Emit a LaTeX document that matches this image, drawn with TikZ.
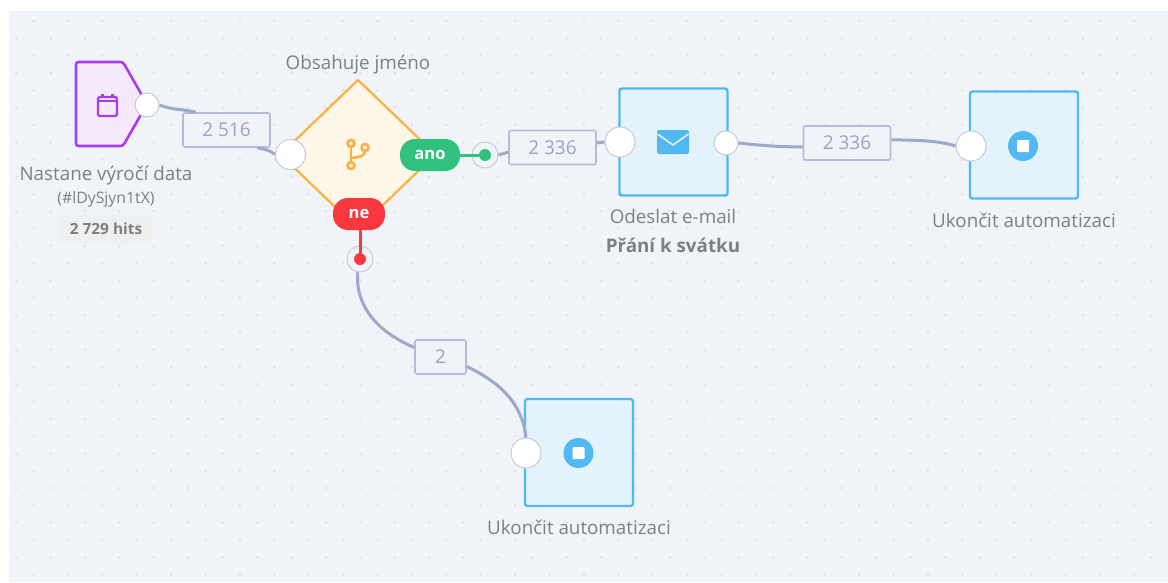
\documentclass[tikz,border=0pt]{standalone}
\usepackage{fontspec}
\setmainfont{Open Sans}
\usetikzlibrary{shapes.geometric}
\definecolor{canvasbg}{HTML}{F0F4F8}
\definecolor{dotcol}{HTML}{DDE3EA}
\definecolor{flowcol}{HTML}{9FA7CB}
\definecolor{labelcol}{HTML}{B5BCD8}
\definecolor{numcol}{HTML}{9AA2C6}
\definecolor{portcol}{HTML}{CBCDD8}
\definecolor{textcol}{HTML}{7C7F83}
\definecolor{trigcol}{HTML}{A83CEF}
\definecolor{trigbg}{HTML}{F5E9FC}
\definecolor{condcol}{HTML}{FBB03F}
\definecolor{condbg}{HTML}{FEF7E8}
\definecolor{actcol}{HTML}{52B8F1}
\definecolor{actbg}{HTML}{E2F3FE}
\definecolor{yescol}{HTML}{30C17F}
\definecolor{nocol}{HTML}{F7393F}
\definecolor{hitsbg}{HTML}{EFEFEF}
\tikzset{
  caption/.style={text=textcol,font=\fontsize{18.8}{22}\selectfont,inner sep=0pt},
  flow/.style={draw=flowcol,line width=3pt},
  countbox/.style={draw=labelcol,line width=1.6pt,fill=canvasbg,rounded corners=2pt,minimum height=34pt,inner sep=0pt,text=numcol,font=\fontsize{19}{22}\selectfont},
  port/.style={circle,draw=portcol,line width=1.1pt,fill=white,inner sep=0pt},
  bigport/.style={port,minimum size=30pt},
  smallport/.style={port,minimum size=24pt},
  ring/.style={circle,draw=portcol,line width=1pt,fill=canvasbg,minimum size=26pt,inner sep=0pt},
  actbox/.style={draw=actcol,line width=2.4pt,fill=actbg,rounded corners=2.5pt,minimum width=108pt,minimum height=107pt,inner sep=0pt},
  pill/.style={rounded corners=15pt,text=white,minimum height=32pt,inner sep=0pt,font=\fontsize{16.5}{20}\selectfont\bfseries},
  stopicon/.style={circle,fill=actcol,minimum size=30pt,inner sep=0pt},
  stopsquare/.style={fill=white,rounded corners=1pt,minimum size=12pt,inner sep=0pt},
  branchdot/.style={circle,draw=condcol,line width=2.6pt,inner sep=0pt,minimum size=7pt}
}
\begin{document}
\begin{tikzpicture}[x=1pt,y=-1pt]
  \useasboundingbox (0,0) rectangle (1168,582);
  \fill[canvasbg] (9,11) rectangle (1168,582);
  \foreach \row in {0,...,32} {
    \foreach \col in {0,...,33} {
      \pgfmathsetmacro{\dotx}{33.5+34.4*\col-17.2*mod(\row,2)}
      \pgfmathsetmacro{\doty}{21+17.3*\row}
      \fill[dotcol] (\dotx,\doty) circle (1.5pt);
    }
  }

  \node[diamond,draw=condcol,line width=2.2pt,line join=round,fill=condbg,minimum width=156pt,minimum height=150pt,inner sep=0pt] (cond) at (358,154.5) {};
  \node[actbox] (send) at (673.5,142) {};
  \node[actbox] (stopa) at (1024,145) {};
  \node[actbox] (stopb) at (579,452.5) {};

  \node[countbox,minimum width=87pt] (counta) at (226.5,130) {\raisebox{-0.7pt}{2 516}};
  \node[countbox,minimum width=87pt] (countb) at (552.5,147.5) {\raisebox{-0.7pt}{2 336}};
  \node[countbox,minimum width=87pt] (countc) at (847,143) {\raisebox{-0.7pt}{2 336}};
  \node[countbox,minimum width=51pt] (countd) at (440.5,357) {\raisebox{-0.7pt}{2}};

  \node[ring] (yesring) at (485,155) {};
  \node[ring] (noring) at (360,259) {};

  \draw[trigcol,line width=2.6pt,fill=trigbg,rounded corners=2.5pt] (76,62) -- (123,62) -- (147,104) -- (123,146) -- (76,146) -- cycle;

  \node[smallport] (trigout) at (147,105) {};
  \node[bigport] (condin) at (290.5,154.5) {};
  \node[bigport] (sendin) at (620,142) {};
  \node[smallport] (sendout) at (726,143) {};
  \node[bigport] (stopain) at (971,146) {};
  \node[bigport] (stopbin) at (526,453) {};

  \node[pill,fill=yescol,minimum width=60pt] (yes) at (430,155) {ano};
  \node[pill,fill=nocol,minimum width=52pt] (no) at (359,214) {ne};
  \node[circle,fill=yescol,minimum size=12pt,inner sep=0pt] (yesdot) at (485,155) {};
  \node[circle,fill=nocol,minimum size=12pt,inner sep=0pt] (nodot) at (360,259) {};

  \draw[flow] (trigout.east) .. controls (172,110) and (183,109) .. (counta.150);
  \draw[flow] (counta.-30) .. controls (264,149) and (270,150) .. (condin.west);
  \draw[flow] (yesring.east) -- (countb.186);
  \draw[flow] (countb.6) -- (sendin.west);
  \draw[flow] (sendout.east) .. controls (765,146) and (785,147) .. (countc.185);
  \draw[flow] (countc.4) .. controls (920,140) and (940,141) .. (stopain.west);
  \draw[flow] (noring.-100) .. controls (355,312) and (385,335) .. (countd.160);
  \draw[flow] (countd.-20) .. controls (495,380) and (522,400) .. (stopbin.north);
  \draw[yescol,line width=3pt] (yes) -- (yesdot);
  \draw[nocol,line width=3pt] (nodot) -- (nodot |- no.south);

  \draw[trigcol,line width=2.2pt,rounded corners=1.5pt] (98,97) rectangle (117,116);
  \draw[trigcol,line width=2.2pt] (98,101) -- (117,101);
  \draw[trigcol,line width=2.2pt] (102.5,94) -- (102.5,98);
  \draw[trigcol,line width=2.2pt] (112.5,94) -- (112.5,98);

  \draw[condcol,line width=2.6pt] (351,147) -- (351,161);
  \draw[condcol,line width=2.6pt] (351,158) .. controls (360,157) and (365,156) .. (365,151);
  \node[branchdot] (brancha) at (351,143.5) {};
  \node[branchdot] (branchb) at (365,147.5) {};
  \node[branchdot] (branchc) at (351,165.5) {};

  \node[fill=actcol,rounded corners=2pt,minimum width=32pt,minimum height=24pt,inner sep=0pt] (mail) at (673,142) {};
  \draw[actbg,line width=1.6pt] (657.5,134) -- (673,145) -- (688.5,134);

  \node[stopicon] (stopaicon) at (1023,146) {};
  \node[stopsquare] (stopasq) at (1023,146) {};
  \node[stopicon] (stopbicon) at (578.5,453) {};
  \node[stopsquare] (stopbsq) at (578.5,453) {};

  \node[caption] (condname) at (358,64.5) {Obsahuje jméno};
  \node[caption] (trigname) at (106,176) {Nastane výročí data};
  \node[caption,font=\fontsize{15.8}{18}\selectfont] (trigid) at (106,199) {(\#lDySjyn1tX)};
  \node[fill=hitsbg,minimum width=94pt,minimum height=28pt,inner sep=0pt,text=textcol,font=\fontsize{15.4}{18}\selectfont\bfseries] (hits) at (106,229) {2 729 hits};
  \node[caption] (sendname) at (673,216) {Odeslat e-mail};
  \node[caption,font=\fontsize{18.8}{22}\selectfont\bfseries] (sendtitle) at (673,245) {Přání k svátku};
  \node[caption] (stopaname) at (1024,220) {Ukončit automatizaci};
  \node[caption] (stopbname) at (579,527) {Ukončit automatizaci};
\end{tikzpicture}
\end{document}
